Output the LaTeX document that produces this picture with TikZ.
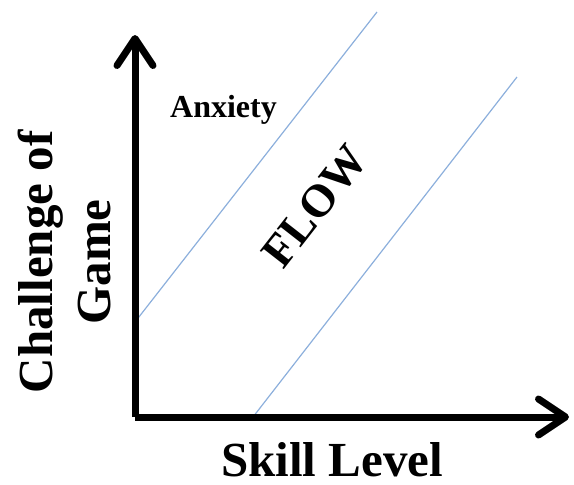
\documentclass[tikz,border=0pt]{standalone}
\usepackage{fontspec}
\setmainfont{Liberation Serif}
\usetikzlibrary{arrows.meta}
\definecolor{flowblue}{RGB}{140,175,220}
\tikzset{
	axis/.style={line width=7pt, line join=round, -{Straight Barb[length=27pt, width=36pt, line width=7pt, round]}},
	bound/.style={line width=1.2pt, color=flowblue},
	bigtext/.style={font=\bfseries\fontsize{49}{58}\selectfont, inner sep=0pt}
}

\begin{document}
\begin{tikzpicture}[x=1pt, y=-1pt]
		%%%%% START %%%%%
		\useasboundingbox (0, 0) rectangle (574, 485);
		
		\coordinate (origin) at (135, 417);
		\coordinate (ytip) at (135, 35);
		\coordinate (xtip) at (569, 417);
		
		% edges of the flow channel
		\coordinate (upperA) at (135, 322);
		\coordinate (upperB) at (377, 12);
		\coordinate (lowerA) at (253, 417);
		\coordinate (lowerB) at (517, 77);
		\draw[bound] (upperA) -- (upperB);
		\draw[bound] (lowerA) -- (lowerB);
		
		\draw[axis] (origin) -- (ytip);
		\draw[axis] (origin) -- (xtip);
		
		\node[bigtext, anchor=base] (skill) at (332, 476) {Skill Level};
		\node[bigtext, align=center, rotate=90] (challenge) at (64, 262) {Challenge of\\Game};
		\node[font=\bfseries\fontsize{32}{38}\selectfont, inner sep=0pt, anchor=base west] (anxiety) at (170, 117) {Anxiety};
		\node[font=\bfseries\fontsize{46}{55}\selectfont, inner sep=0pt, rotate=52] (flow) at (315, 206) {FLOW};
		
		%%%%% END %%%%%
	\end{tikzpicture}
\end{document}
